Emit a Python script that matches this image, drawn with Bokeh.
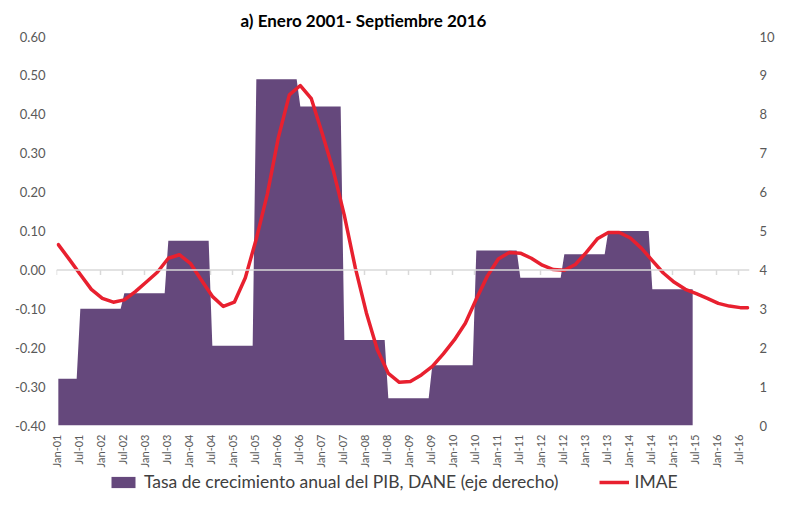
import math
from bokeh.plotting import figure
from bokeh.layouts import column
from bokeh.models import (Range1d, LinearAxis, FixedTicker, NumeralTickFormatter,
                          Legend, LegendItem, Title, Span)
from bokeh.embed import file_html
from bokeh.resources import INLINE

# ---------------- data ----------------
# Annual GDP growth (right axis), shown by the source from July of the prior year to June
pib_years = [2001, 2002, 2003, 2004, 2005, 2006, 2007, 2008, 2009, 2010,
             2011, 2012, 2013, 2014, 2015]
pib_values = [1.2, 3.0, 3.4, 4.75, 2.05, 8.9, 8.2, 2.2, 0.7, 1.55,
              4.5, 3.8, 4.4, 5.0, 3.5]

# IMAE (left axis), read every three months from Jan-2001 to Sep-2016
imae_dates = ["%d-%02d" % (2001 + k // 12, k % 12 + 1) for k in range(0, 189, 3)] + ["2016-09"]
imae_values = [0.065, 0.027, -0.012, -0.050, -0.073, -0.083, -0.077, -0.056,
               -0.031, -0.006, 0.030, 0.039, 0.017, -0.026, -0.068, -0.094,
               -0.083, -0.020, 0.080, 0.195, 0.340, 0.450, 0.474, 0.440,
               0.350, 0.255, 0.140, 0.005, -0.110, -0.205, -0.266, -0.289,
               -0.287, -0.270, -0.248, -0.216, -0.180, -0.137, -0.075, -0.016,
               0.028, 0.045, 0.043, 0.030, 0.012, 0.001, -0.001, 0.014,
               0.045, 0.080, 0.096, 0.096, 0.082, 0.056, 0.024, -0.008,
               -0.032, -0.050, -0.061, -0.073, -0.086, -0.093, -0.097, -0.097]

tick_labels = ["%s-%02d" % ("Jan" if i % 2 == 0 else "Jul", (2001 + i // 2) % 100) for i in range(32)]
left_ticks = [-0.40, -0.30, -0.20, -0.10, 0.00, 0.10, 0.20, 0.30, 0.40, 0.50, 0.60]
right_ticks = [0, 1, 2, 3, 4, 5, 6, 7, 8, 9, 10]

title_text = "a) Enero 2001- Septiembre 2016"
pib_label = "Tasa de crecimiento anual del PIB, DANE (eje derecho)"
imae_label = "IMAE"

# ---------------- derived ----------------
def month_index(s):
    y, m = s.split("-")
    return (int(y) - 2001) * 12 + int(m) - 1

# monthly expansion of GDP levels (Jan-01 .. Jun-15)
n_pib_months = (pib_years[-1] - 2001) * 12 + 6
pib_x = [m + 0.5 for m in range(n_pib_months)]
pib_y = [pib_values[(m + 6) // 12] for m in range(n_pib_months)]

imae_x = [month_index(d) + 0.5 for d in imae_dates]
xticks = list(range(0, 187, 6))

FONT = "Lato"
GRAY = "#595959"
PURPLE = "#65487C"
RED = "#E8202F"
AXIS_GRAY = "#D9D9D9"


def style_axis(ax, size):
    ax.axis_line_color = None
    ax.major_tick_line_color = None
    ax.minor_tick_line_color = None
    ax.major_tick_in = 0
    ax.major_tick_out = 0
    ax.minor_tick_in = 0
    ax.minor_tick_out = 0
    ax.major_label_text_font = FONT
    ax.major_label_text_font_size = size
    ax.major_label_text_color = GRAY


p = figure(width=777, height=470, output_backend="svg",
           toolbar_location=None, x_range=Range1d(0, 189),
           y_range=Range1d(-0.4, 0.6),
           x_axis_location=None, y_axis_location=None,
           min_border_left=56, min_border_right=25, min_border_top=36,
           min_border_bottom=44)
p.extra_y_ranges = {"right": Range1d(0, 10)}
p.outline_line_color = None
p.xgrid.visible = False
p.ygrid.visible = False
p.title = Title(text=title_text, text_font=FONT, text_font_size="17px",
                text_font_style="bold", text_color="#000000", align="left",
                offset=184, standoff=11)

# zero line (horizontal axis crossing) with its tick marks
p.add_layout(Span(location=0, dimension="width", line_color=AXIS_GRAY, line_width=1.5))
p.segment(x0=xticks, x1=xticks, y0=[0] * len(xticks), y1=[-0.013] * len(xticks),
          line_color=AXIS_GRAY, line_width=1.5)

area = p.varea(x=pib_x, y1=[0] * len(pib_x), y2=pib_y, y_range_name="right",
               fill_color=PURPLE)
line = p.line(x=imae_x, y=imae_values, line_color=RED, line_width=3.5,
              line_join="round", line_cap="round")

# left axis
lax = LinearAxis(ticker=FixedTicker(ticks=left_ticks),
                 formatter=NumeralTickFormatter(format="0.00"))
style_axis(lax, "13px")
lax.major_label_standoff = 11
p.add_layout(lax, "left")

# right axis
rax = LinearAxis(y_range_name="right", ticker=FixedTicker(ticks=right_ticks))
style_axis(rax, "13px")
rax.major_label_standoff = 10
p.add_layout(rax, "right")

# labelled bottom axis
bax = LinearAxis(ticker=FixedTicker(ticks=xticks))
bax.major_label_overrides = {t: lab for t, lab in zip(xticks, tick_labels)}
style_axis(bax, "11px")
bax.major_label_orientation = math.pi / 2
bax.major_label_text_baseline = "top"
bax.major_label_standoff = 9
p.add_layout(bax, "below")

# legend strip under the chart (proxies use the same series, kept out of view)
lg = figure(width=777, height=22, output_backend="svg", toolbar_location=None,
            x_range=Range1d(-2, -1), y_range=Range1d(0, 1),
            x_axis_location=None, y_axis_location=None,
            min_border_left=0, min_border_right=0, min_border_top=0,
            min_border_bottom=0)
lg.outline_line_color = None
lg.xgrid.visible = False
lg.ygrid.visible = False
lg_area = lg.varea(x=pib_x, y1=pib_y, y2=pib_y, fill_color=PURPLE)
lg_line = lg.line(x=imae_x, y=imae_values, line_color=RED, line_width=3.5)
legend = Legend(items=[LegendItem(label=pib_label, renderers=[lg_area]),
                       LegendItem(label=imae_label, renderers=[lg_line])],
                orientation="horizontal", location=(52, 0),
                label_text_font=FONT, label_text_font_size="17.5px",
                label_text_color="#404040",
                glyph_width=30, glyph_height=14, spacing=40,
                label_standoff=6, border_line_color=None,
                background_fill_alpha=0, padding=0, margin=0)
lg.add_layout(legend, "center")

layout = column(p, lg, spacing=0)
open("out.html", "w").write(file_html(layout, INLINE))
